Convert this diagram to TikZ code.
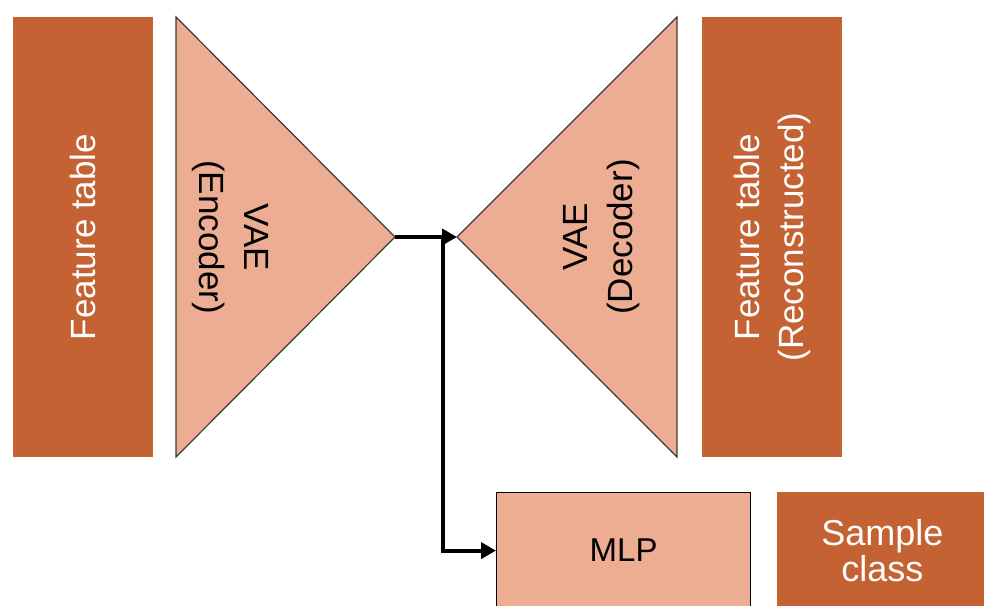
\documentclass[tikz,border=0pt]{standalone}
\usepackage{fontspec}
\setmainfont{Liberation Sans}
\usetikzlibrary{shapes,arrows.meta,positioning}
\definecolor{dark_orange}{HTML}{C46234}
\definecolor{light_orange}{HTML}{EDAD92}
\definecolor{edge_grey}{HTML}{3A3A3A}

\begin{document}
\begin{tikzpicture}[x=0.5pt,y=-0.5pt,
    block_table/.style ={rectangle, draw=none, fill=dark_orange, text=white,
      minimum width=220pt, minimum height=70pt, inner sep=0pt, rotate=90,
      align=center, font=\fontsize{17.5}{22}\selectfont},
    block_vae/.style ={fill=light_orange, draw=edge_grey, line width=0.6pt},
    label_vae/.style ={align=center, inner sep=0pt,
      font=\fontsize{17.5}{22.5}\selectfont},
    block_mlp/.style ={rectangle, draw=black, line width=0.6pt, fill=light_orange,
      minimum width=127pt, minimum height=58pt, inner sep=0pt,
      font=\fontsize{16.5}{18}\selectfont},
    block_class/.style ={rectangle, draw=none, fill=dark_orange, text=white,
      minimum width=105pt, minimum height=58pt, inner sep=0pt, align=center,
      font=\fontsize{18}{18}\selectfont},
    line/.style ={draw, line width=2pt, -{Triangle[length=7.5pt,width=8pt]}, shorten >=0pt}]
    \useasboundingbox (0,0) rectangle (984,605);
    % input and output tables
    \node [block_table] (feature_table) at (83,237) {Feature table};
    \node [block_table] (feature_rec) at (772,237) {Feature table\\(Reconstructed)};
    % encoder and decoder as triangles
    \filldraw [block_vae] (176,17) -- (395,237) coordinate (enc_tip) -- (176,457) -- cycle;
    \filldraw [block_vae] (677,17) -- (457,237) coordinate (dec_tip) -- (677,457) -- cycle;
    \node [label_vae, rotate=-90] (encoder) at (230,237) {VAE\\(Encoder)};
    \node [label_vae, rotate=90] (decoder) at (602,237) {VAE\\(Decoder)};
    % classifier branch
    \node [block_mlp, anchor=north west] (mlp) at (496,492) {MLP};
    \node [block_class, anchor=north west] (sample_class) at (777,492) {Sample\\class};
    \coordinate (split) at (443,237);
    % connecting with paths
    \begin{scope}[every path/.style=line]
      \path (enc_tip) -- (dec_tip);
      \path (split) |- (mlp.west);
    \end{scope}
\end{tikzpicture}
\end{document}
